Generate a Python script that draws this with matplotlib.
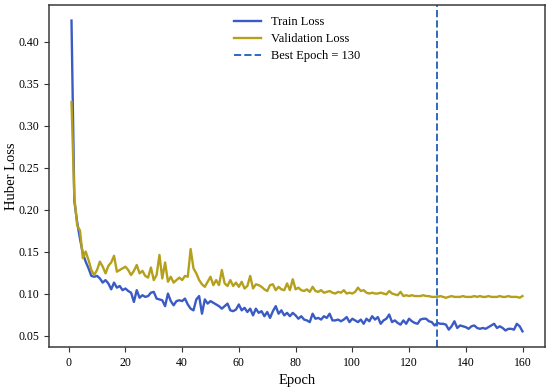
import numpy as np
import matplotlib
matplotlib.use("Agg")
import matplotlib.pyplot as plt

plt.rcParams['font.family'] = ['Liberation Serif', 'DejaVu Serif']

epochs = np.arange(1, 161)

train_loss = [
    0.425, 0.210, 0.185, 0.165, 0.148, 0.138, 0.130, 0.121, 0.120, 0.121,
    0.118, 0.113, 0.116, 0.112, 0.105, 0.113, 0.107, 0.109, 0.104, 0.106,
    0.103, 0.101, 0.090, 0.104, 0.095, 0.098, 0.096, 0.097, 0.101, 0.102,
    0.094, 0.093, 0.092, 0.085, 0.100, 0.091, 0.086, 0.091, 0.092, 0.091,
    0.094, 0.087, 0.082, 0.080, 0.093, 0.097, 0.076, 0.093, 0.088, 0.091,
    0.089, 0.087, 0.085, 0.082, 0.085, 0.088, 0.080, 0.079, 0.081, 0.087,
    0.080, 0.083, 0.078, 0.082, 0.074, 0.082, 0.077, 0.079, 0.073, 0.078,
    0.071, 0.079, 0.085, 0.076, 0.080, 0.074, 0.077, 0.073, 0.077, 0.074,
    0.070, 0.073, 0.069, 0.068, 0.066, 0.076, 0.070, 0.071, 0.069, 0.073,
    0.071, 0.076, 0.068, 0.068, 0.069, 0.067, 0.069, 0.072, 0.066, 0.070,
    0.068, 0.066, 0.069, 0.064, 0.070, 0.067, 0.073, 0.069, 0.072, 0.064,
    0.068, 0.070, 0.075, 0.066, 0.068, 0.065, 0.063, 0.068, 0.064, 0.070,
    0.067, 0.065, 0.064, 0.069, 0.070, 0.070, 0.067, 0.066, 0.062, 0.065,
    0.064, 0.064, 0.063, 0.057, 0.061, 0.067, 0.059, 0.062, 0.061, 0.060,
    0.058, 0.061, 0.062, 0.059, 0.058, 0.059, 0.058, 0.060, 0.062, 0.064,
    0.059, 0.061, 0.059, 0.056, 0.058, 0.058, 0.057, 0.064, 0.061, 0.055,
]

val_loss = [
    0.328, 0.215, 0.181, 0.175, 0.142, 0.150, 0.140, 0.128, 0.122, 0.128,
    0.138, 0.132, 0.124, 0.133, 0.137, 0.145, 0.126, 0.128, 0.130, 0.132,
    0.128, 0.122, 0.127, 0.134, 0.124, 0.127, 0.121, 0.119, 0.131, 0.116,
    0.122, 0.146, 0.118, 0.137, 0.114, 0.120, 0.113, 0.116, 0.119, 0.116,
    0.121, 0.120, 0.153, 0.130, 0.124, 0.116, 0.111, 0.108, 0.114, 0.120,
    0.110, 0.116, 0.110, 0.128, 0.112, 0.109, 0.116, 0.109, 0.113, 0.108,
    0.114, 0.106, 0.109, 0.121, 0.106, 0.111, 0.110, 0.108, 0.105, 0.103,
    0.110, 0.111, 0.104, 0.108, 0.105, 0.104, 0.112, 0.104, 0.117, 0.105,
    0.107, 0.104, 0.103, 0.105, 0.102, 0.108, 0.103, 0.102, 0.104, 0.101,
    0.102, 0.103, 0.101, 0.100, 0.102, 0.101, 0.104, 0.100, 0.101, 0.100,
    0.102, 0.107, 0.103, 0.104, 0.101, 0.100, 0.101, 0.100, 0.100, 0.101,
    0.100, 0.099, 0.103, 0.100, 0.099, 0.098, 0.102, 0.097, 0.098, 0.097,
    0.098, 0.097, 0.097, 0.097, 0.098, 0.097, 0.097, 0.096, 0.096, 0.096,
    0.097, 0.096, 0.095, 0.096, 0.097, 0.096, 0.096, 0.096, 0.097, 0.096,
    0.096, 0.096, 0.097, 0.096, 0.097, 0.096, 0.096, 0.097, 0.096, 0.096,
    0.096, 0.097, 0.096, 0.096, 0.097, 0.096, 0.096, 0.096, 0.095, 0.097,
]

best_epoch = 130

fig = plt.figure(figsize=(5.5, 3.88), dpi=100)
ax = fig.add_axes([0.089, 0.106, 0.902, 0.881])

ax.plot(epochs, train_loss, color='#3a5ac4', lw=1.7, label='Train Loss')
ax.plot(epochs, val_loss, color='#b5a01c', lw=1.7, label='Validation Loss')
ax.axvline(best_epoch, color='#2f68c0', lw=1.4, ls='--',
           label='Best Epoch = {}'.format(best_epoch))

ax.set_xticks(np.arange(0, 161, 20))
ax.set_yticks(np.arange(0.05, 0.41, 0.05))
ax.yaxis.set_major_formatter(matplotlib.ticker.FormatStrFormatter('%.2f'))
ax.tick_params(labelsize=8.5, length=3.5, width=0.8, color='#333333')
for s in ax.spines.values():
    s.set_color('#3a3a3a')
    s.set_linewidth(1.1)

ax.set_xlabel('Epoch', fontsize=10.5, labelpad=4)
ax.set_ylabel('Huber Loss', fontsize=10.5)
ax.yaxis.set_label_coords(-0.062, 0.5)
ax.legend(loc='upper center', frameon=False, fontsize=9,
          handlelength=2.2, borderaxespad=0.5, labelspacing=0.4)

fig.savefig('out.png', dpi=100)
